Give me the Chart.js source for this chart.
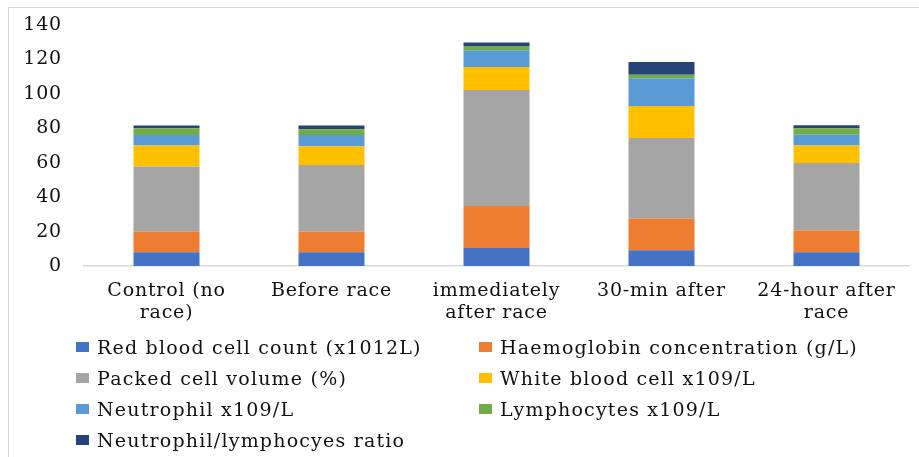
<!DOCTYPE html>
<html>
<head>
<meta charset="utf-8">
<script src="https://cdn.jsdelivr.net/npm/chart.js@4"></script>
<style>
  html, body { margin: 0; padding: 0; background: #fff; }
  #wrap { position: relative; width: 919px; height: 457px; overflow: hidden; }
  #frame { position: absolute; left: 8px; top: 7px; width: 940px; height: 480px; border: 1px solid #d9d9d9; box-sizing: border-box; }
  canvas { position: absolute; left: 0; top: 0; }
  #legend { position: absolute; left: 76px; top: 331px; display: grid; grid-template-columns: 403px 400px; row-gap: 0; font-family: "DejaVu Serif", serif; font-size: 19px; letter-spacing: 1.2px; color: #111; }
  #legend div { height: 31px; line-height: 26px; white-space: nowrap; display: flex; align-items: center; }
  #legend span.box { display: inline-block; width: 13px; height: 10px; margin-right: 8px; }
</style>
</head>
<body>
<div id="wrap">
  <div id="frame"></div>
  <canvas id="grafico" width="919" height="457"></canvas>
  <div id="legend"></div>
</div>
<script>
const categorias = [["Control (no", "race)"], "Before race", ["immediately", "after race"], "30-min after", ["24-hour after", "race"]];

const nomesSeries = [
  "Red blood cell count (x1012L)",
  "Haemoglobin concentration (g/L)",
  "Packed cell volume (%)",
  "White blood cell x109/L",
  "Neutrophil x109/L",
  "Lymphocytes x109/L",
  "Neutrophil/lymphocyes ratio"
];

const coresSeries = ["#4472C4", "#ED7D31", "#A5A5A5", "#FFC000", "#5B9BD5", "#70AD47", "#264478"];

// valores
const hemacias = [8.0, 8.0, 10.4, 9.2, 8.0];
const hemoglobina = [12.1, 12.0, 24.4, 18.4, 12.7];
const hematocrito = [37.8, 38.7, 67.5, 46.8, 39.1];
const leucocitos = [12.1, 10.9, 13.4, 18.6, 10.3];
const neutrofilos = [6.1, 6.5, 9.7, 16.1, 6.2];
const linfocitos = [3.9, 3.4, 2.4, 2.0, 3.7];
const razaoNL = [1.6, 2.1, 2.1, 7.5, 1.8];

const valoresSeries = [hemacias, hemoglobina, hematocrito, leucocitos, neutrofilos, linfocitos, razaoNL];

const ticksY = [0, 20, 40, 60, 80, 100, 120, 140];

const fonte = { family: "DejaVu Serif", size: 19, lineHeight: 1.17 };

// espaçamento entre letras no canvas (fonte do original é mais larga)
const espacamento = {
  id: "espacamento",
  beforeDraw: (chart) => { chart.ctx.letterSpacing = "0.8px"; },
};

const ctx = document.getElementById("grafico").getContext("2d");
let myChart = new Chart(ctx, {
  type: "bar",
  data: {
    labels: categorias,
    datasets: nomesSeries.map((nome, i) => ({
      label: nome,
      data: valoresSeries[i],
      backgroundColor: coresSeries[i],
      borderWidth: 0,
      categoryPercentage: 1,
      barPercentage: 0.4,
    })),
  },
  options: {
    responsive: false,
    animation: false,
    layout: { padding: { left: 0, right: 10, top: 6, bottom: 131 } },
    plugins: { legend: { display: false }, tooltip: { enabled: false } },
    scales: {
      x: {
        stacked: true,
        grid: { display: false },
        border: { display: true, color: "#d9d9d9", width: 1.5 },
        ticks: { color: "#111", font: fonte, padding: 6, maxRotation: 0, autoSkip: false },
        afterFit: (scale) => { scale.height = 60; },
      },
      y: {
        stacked: true,
        min: 0,
        max: 140,
        afterBuildTicks: (scale) => { scale.ticks = ticksY.map((v) => ({ value: v })); },
        grid: { display: false },
        border: { display: false },
        ticks: { color: "#111", font: fonte, padding: 14 },
        afterFit: (scale) => { scale.width = 84; },
      },
    },
  },
  plugins: [espacamento],
});

// legenda em duas colunas
const legenda = document.getElementById("legend");
nomesSeries.forEach((nome, i) => {
  const item = document.createElement("div");
  item.innerHTML = '<span class="box" style="background:' + coresSeries[i] + '"></span>' + nome;
  legenda.appendChild(item);
});
</script>
</body>
</html>
